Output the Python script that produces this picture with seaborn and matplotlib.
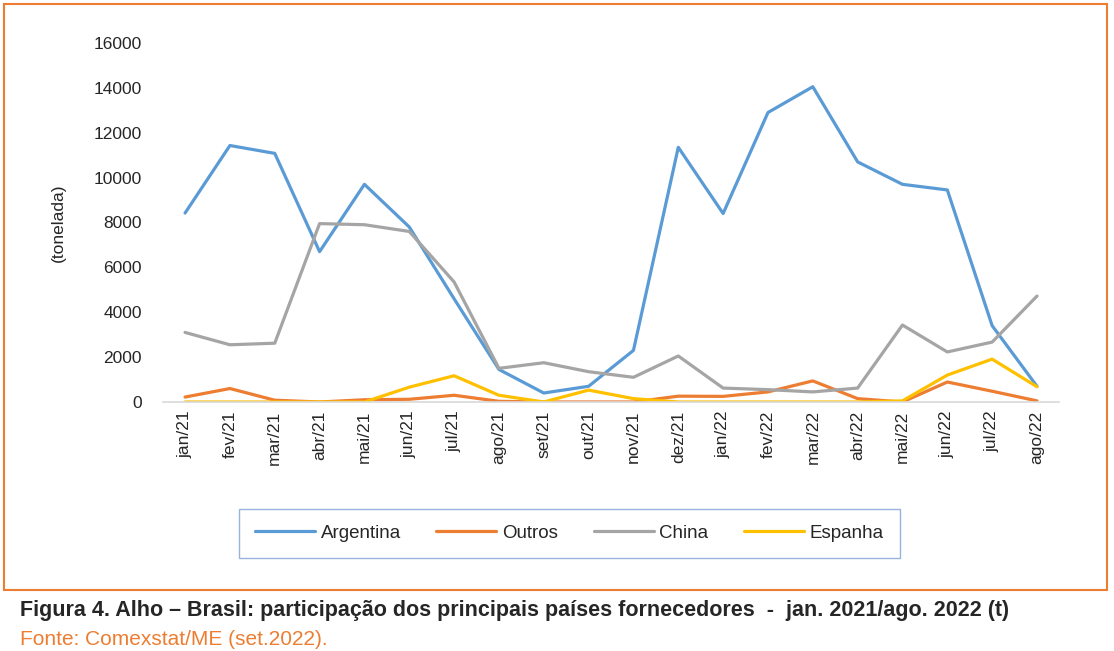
import pandas as pd
import matplotlib
matplotlib.use('Agg')
import matplotlib.pyplot as plt
import seaborn as sns
from matplotlib.patches import Rectangle
from matplotlib.ticker import FixedLocator

# data (toneladas)
months = ['jan/21', 'fev/21', 'mar/21', 'abr/21', 'mai/21', 'jun/21', 'jul/21', 'ago/21',
          'set/21', 'out/21', 'nov/21', 'dez/21', 'jan/22', 'fev/22', 'mar/22', 'abr/22',
          'mai/22', 'jun/22', 'jul/22', 'ago/22']
argentina = [8420, 11430, 11080, 6700, 9700, 7800, 4600, 1450, 400, 700,
             2300, 11350, 8400, 12900, 14050, 10700, 9700, 9450, 3400, 700]
outros = [220, 600, 80, 0, 100, 120, 300, 30, 0, 0,
          0, 260, 250, 450, 940, 150, 0, 890, 480, 50]
china = [3100, 2550, 2620, 7950, 7900, 7600, 5350, 1500, 1750, 1350,
         1100, 2050, 620, 550, 450, 620, 3430, 2230, 2670, 4720]
espanha = [0, 0, 0, 0, 0, 660, 1170, 300, 0, 530,
           150, 0, 0, 0, 0, 0, 50, 1200, 1910, 680]

series = {'Argentina': argentina, 'Outros': outros, 'China': china, 'Espanha': espanha}
colors = {'Argentina': '#5B9BD5', 'Outros': '#ED7D31', 'China': '#A5A5A5', 'Espanha': '#FFC000'}

rows = []
for name, vals in series.items():
    for i, v in enumerate(vals):
        rows.append({'idx': i, 'mes': months[i], 'pais': name, 'valor': v})
df = pd.DataFrame(rows)

sns.set_style('white')
plt.rcParams['font.family'] = ['Liberation Sans', 'DejaVu Sans']

fig = plt.figure(figsize=(11.14, 6.51), dpi=100)
ax = fig.add_axes([0.146, 0.3825, 0.805, 0.5515])

sns.lineplot(data=df, x='idx', y='valor', hue='pais', palette=colors,
             linewidth=2.3, sort=False, ax=ax, legend=False)

ax.set_xlim(-0.5, len(months) - 0.5)
ax.set_ylim(0, 16000)
ax.set_yticks(range(0, 16001, 2000))
ax.set_yticklabels([str(v) for v in range(0, 16001, 2000)], fontsize=12.5)
ax.set_xticks(range(len(months)))
ax.set_xticklabels(months, rotation=90, fontsize=12.5)
ax.xaxis.set_minor_locator(FixedLocator([i - 0.5 for i in range(len(months) + 1)]))
ax.tick_params(axis='x', which='major', length=0, pad=6)
ax.tick_params(axis='x', which='minor', length=6, color='#D9D9D9', width=1.2)
ax.tick_params(axis='y', length=0, pad=15)
ax.set_xlabel('')
ax.set_ylabel('(tonelada)', fontsize=12.5, labelpad=20)
for s in ['top', 'right', 'left']:
    ax.spines[s].set_visible(False)
ax.spines['bottom'].set_color('#D9D9D9')
ax.spines['bottom'].set_linewidth(1.2)
ax.grid(False)

# legend
handles = [plt.Line2D([], [], color=colors[n], linewidth=2.3) for n in series]
leg = fig.legend(handles, list(series.keys()), loc='center', bbox_to_anchor=(0.511, 0.181),
                 ncol=4, fontsize=13.5, frameon=True, fancybox=False,
                 handlelength=3.2, columnspacing=1.9, borderpad=0.85, handletextpad=0.3,
                 borderaxespad=0)
leg.get_frame().set_edgecolor('#7F9FD8')
leg.get_frame().set_linewidth(1.0)

# orange frame
fig.patches.append(Rectangle((0.004, 0.094), 0.99, 0.9, transform=fig.transFigure,
                             fill=False, edgecolor='#ED7D31', linewidth=1.5))

fig.text(0.018, 0.062, 'Figura 4. Alho \u2013 Brasil: participação dos principais países fornecedores  -  jan. 2021/ago. 2022 (t)',
         fontsize=15.5, fontweight='bold', va='center', ha='left')
fig.text(0.018, 0.018, 'Fonte: Comexstat/ME (set.2022).', fontsize=15, color='#ED7D31',
         va='center', ha='left')

fig.savefig('out.png', dpi=100)
